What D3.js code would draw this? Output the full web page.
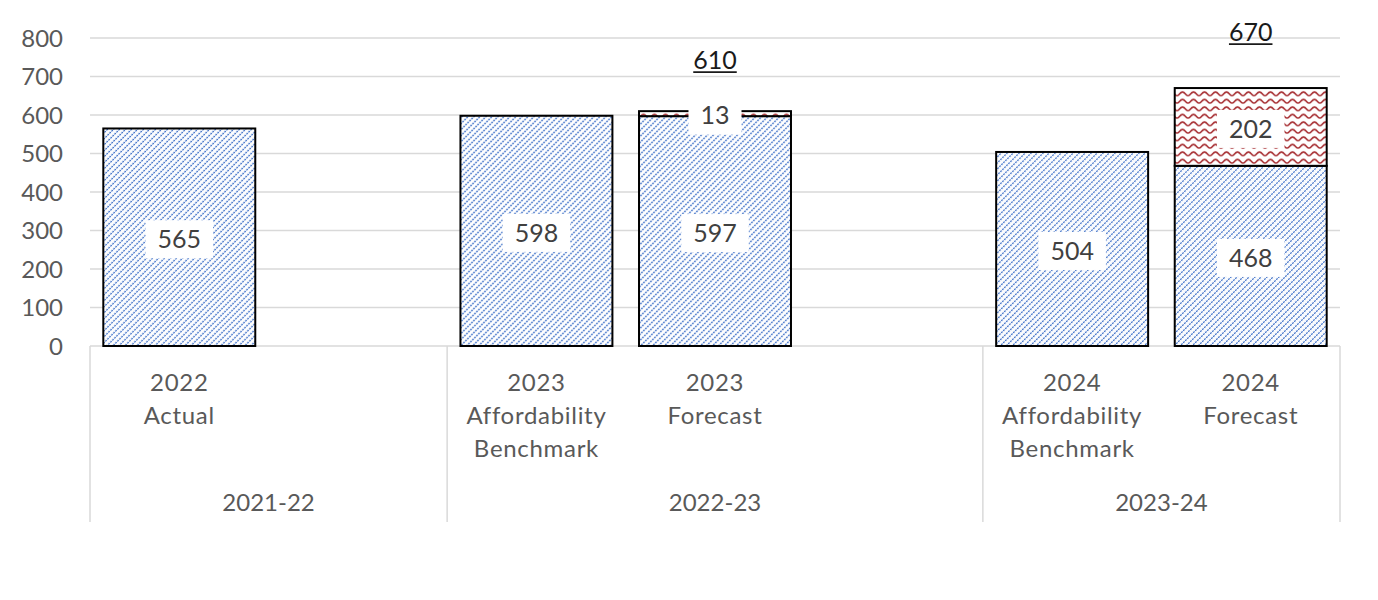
<!DOCTYPE html>
<html>
<head>
<meta charset="utf-8">
<script src="https://cdn.jsdelivr.net/npm/d3@7"></script>
<style>
  html, body { margin: 0; padding: 0; background: #ffffff; }
  svg { display: block; }
  text { font-family: Lato, "Open Sans", "Liberation Sans", sans-serif; }
</style>
</head>
<body>
<svg id="chart" width="1378" height="600"></svg>
<script>
// ---- data ----
const categories = ["2022|Actual", "gap1", "2023|Affordability|Benchmark", "2023|Forecast", "gap2", "2024|Affordability|Benchmark", "2024|Forecast"];
const baseValues = [565, null, 598, 597, null, 504, 468];
const additionValues = [null, null, null, 13, null, null, 202];
const totalValues = [null, null, null, 610, null, null, 670];
const groupLabels = ["2021-22", "2022-23", "2023-24"];
const groupStart = [0, 2, 5];
const groupEnd = [2, 5, 7];
const yTicks = [0, 100, 200, 300, 400, 500, 600, 700, 800];

// ---- layout ----
const svg = d3.select("#chart");
const plotLeft = 90, plotRight = 1340, plotTop = 38, plotBottom = 346;
const axisBottom = 522;

const x = d3.scaleBand().domain(categories).range([plotLeft, plotRight]).paddingInner(0.149).paddingOuter(0.0745);
const step = x.step();
const y = d3.scaleLinear().domain([0, 800]).range([plotBottom, plotTop]);

const defs = svg.append("defs");
// blue dotted diagonal pattern
const pb = defs.append("pattern").attr("id", "blueDiag").attr("patternUnits", "userSpaceOnUse")
  .attr("width", 2.83).attr("height", 4.24).attr("patternTransform", "rotate(-45)");
pb.append("rect").attr("width", 2.83).attr("height", 4.24).attr("fill", "#ffffff");
pb.append("line").attr("x1", 0).attr("y1", 2.1).attr("x2", 2.83).attr("y2", 2.1)
  .attr("stroke", "#3066c4").attr("stroke-width", 1.25).attr("stroke-dasharray", "1.9 0.93");
// red wave pattern
const pr = defs.append("pattern").attr("id", "redWave").attr("patternUnits", "userSpaceOnUse")
  .attr("width", 11).attr("height", 7.5);
pr.append("rect").attr("width", 11).attr("height", 7.5).attr("fill", "#ffffff");
pr.append("path").attr("d", "M0,5.6 C2.75,5.6 2.75,2 5.5,2 C8.25,2 8.25,5.6 11,5.6")
  .attr("fill", "none").attr("stroke", "#a3262a").attr("stroke-width", 1.5);

// gridlines
svg.append("g").selectAll("line").data(yTicks).join("line")
  .attr("x1", plotLeft).attr("x2", plotRight)
  .attr("y1", d => y(d)).attr("y2", d => y(d))
  .attr("stroke", "#d9d9d9").attr("stroke-width", 1.5);

// y axis labels
const yAxis = d3.axisLeft(y).tickValues(yTicks).tickSize(0).tickPadding(0);
const yg = svg.append("g").attr("transform", `translate(${plotLeft - 27},0)`).call(yAxis);
yg.select(".domain").remove();
yg.selectAll("text").attr("font-size", 24).attr("fill", "#595959")
  .attr("font-family", "Lato, 'Open Sans', sans-serif").attr("dy", "0.35em");

// category axis separators
const sepX = [plotLeft].concat(groupEnd.map(e => plotLeft + e * step));
svg.append("g").selectAll("line").data(sepX).join("line")
  .attr("x1", d => d).attr("x2", d => d).attr("y1", plotBottom).attr("y2", axisBottom)
  .attr("stroke", "#d9d9d9").attr("stroke-width", 1.5);

// bars
const rows = categories.map((c, i) => ({ c, base: baseValues[i], add: additionValues[i], total: totalValues[i] }));
const bars = svg.append("g");
bars.selectAll("rect.base").data(rows.filter(d => d.base != null)).join("rect")
  .attr("class", "base")
  .attr("x", d => x(d.c)).attr("width", x.bandwidth())
  .attr("y", d => y(d.base)).attr("height", d => y(0) - y(d.base))
  .attr("fill", "url(#blueDiag)").attr("stroke", "#000").attr("stroke-width", 2);
bars.selectAll("rect.add").data(rows.filter(d => d.add != null)).join("rect")
  .attr("class", "add")
  .attr("x", d => x(d.c)).attr("width", x.bandwidth())
  .attr("y", d => y(d.base + d.add)).attr("height", d => y(d.base) - y(d.base + d.add))
  .attr("fill", "url(#redWave)").attr("stroke", "#000").attr("stroke-width", 2);

// data labels
function dataLabel(g, cx, cy, txt) {
  const t = g.append("text").attr("x", cx).attr("y", cy).attr("text-anchor", "middle")
    .attr("dy", "0.35em").attr("font-size", 25).attr("fill", "#404040").text(txt);
  const bb = t.node().getBBox();
  g.insert("rect", "text").attr("x", cx - bb.width / 2 - 12).attr("y", cy - 19)
    .attr("width", bb.width + 24).attr("height", 38).attr("fill", "#ffffff");
}
const lab = svg.append("g");
rows.forEach(d => {
  if (d.base != null) {
    const g = lab.append("g");
    dataLabel(g, x(d.c) + x.bandwidth() / 2, (y(0) + y(d.base)) / 2 + 2, d.base);
  }
  if (d.add != null) {
    const g = lab.append("g");
    dataLabel(g, x(d.c) + x.bandwidth() / 2, (y(d.base) + y(d.base + d.add)) / 2 + 2, d.add);
  }
  if (d.total != null) {
    const cx = x(d.c) + x.bandwidth() / 2;
    const cy = y(d.total * 1.215);
    const t = lab.append("text").attr("x", cx).attr("y", cy).attr("dy", "0.35em")
      .attr("text-anchor", "middle").attr("font-size", 25).attr("fill", "#1a1a1a").text(d.total);
    const bb = t.node().getBBox();
    lab.append("line").attr("x1", cx - bb.width / 2).attr("x2", cx + bb.width / 2)
      .attr("y1", cy + 11.5).attr("y2", cy + 11.5).attr("stroke", "#1a1a1a").attr("stroke-width", 1.8);
  }
});

// category labels
const cat = svg.append("g");
categories.forEach(c => {
  if (c.startsWith("gap")) return;
  const lines = c.split("|");
  const t = cat.append("text").attr("x", x(c) + x.bandwidth() / 2).attr("text-anchor", "middle")
    .attr("font-size", 24).attr("letter-spacing", 0.7).attr("fill", "#595959");
  lines.forEach((ln, i) => {
    t.append("tspan").attr("x", x(c) + x.bandwidth() / 2).attr("y", 383 + i * 33).attr("dy", "0.35em").text(ln);
  });
});
// group labels
svg.append("g").selectAll("text").data(groupLabels).join("text")
  .attr("x", (d, i) => plotLeft + (groupStart[i] + groupEnd[i]) / 2 * step)
  .attr("y", 503).attr("dy", "0.35em").attr("text-anchor", "middle")
  .attr("font-size", 24).attr("fill", "#595959").text(d => d);
</script>
</body>
</html>
